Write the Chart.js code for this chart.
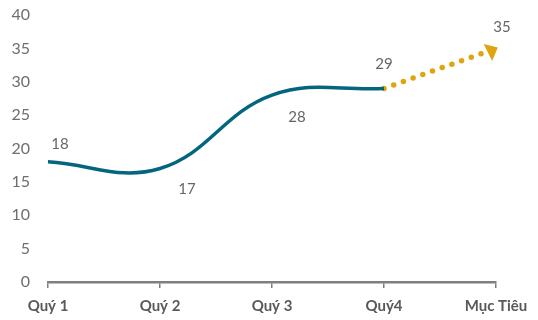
<!DOCTYPE html>
<html><head><meta charset="utf-8">
<script src="https://cdn.jsdelivr.net/npm/chart.js@4/dist/chart.umd.min.js"></script>
<style>html,body{margin:0;padding:0;background:#fff}#wrap{width:538px;height:320px}</style>
</head><body><div id="wrap"><canvas id="c" width="538" height="320"></canvas></div>
<script>
const categories = ["Quý 1", "Quý 2", "Quý 3", "Quý4", "Mục Tiêu"];
const actualValues = [18, 17, 28, 29, null];
const targetValues = [null, null, null, 29, 35];
const yTicks = [0, 5, 10, 15, 20, 25, 30, 35, 40];

// label placement per point: [dataset, index, dx, dy]
const labelPlacement = [
  [0, 0, 12, -18], [0, 1, 27, 21], [0, 2, 25, 22], [0, 3, 0, -24], [1, 4, 6, -21]
];

const labelPlugin = {
  id: 'labels',
  afterDatasetsDraw(chart) {
    const ctx = chart.ctx;
    ctx.save();
    ctx.font = '15px Lato, "Open Sans", sans-serif';
    ctx.fillStyle = '#666666';
    ctx.textAlign = 'center';
    ctx.textBaseline = 'middle';
    labelPlacement.forEach(([d, i, dx, dy]) => {
      const el = chart.getDatasetMeta(d).data[i];
      const v = chart.data.datasets[d].data[i];
      ctx.fillText(String(v), el.x + dx, el.y + dy);
    });
    // arrow head on target line
    const meta = chart.getDatasetMeta(1).data;
    const p1 = meta[3], p2 = meta[4];
    const ang = Math.atan2(p2.y - p1.y, p2.x - p1.x) - 0.12;
    ctx.translate(p2.x, p2.y);
    ctx.rotate(ang);
    ctx.fillStyle = '#DFA50E';
    ctx.beginPath();
    ctx.moveTo(2, 0);
    ctx.lineTo(-9, -9.5);
    ctx.lineTo(-9, 9.5);
    ctx.closePath();
    ctx.fill();
    ctx.restore();
  }
};

new Chart(document.getElementById('c'), {
  type: 'line',
  data: {
    labels: categories,
    datasets: [
      {
        data: actualValues,
        borderColor: '#04657F',
        borderWidth: 3.5,
        tension: 0.4,
        pointRadius: 0,
        fill: false
      },
      {
        data: targetValues,
        borderColor: '#DFA50E',
        borderWidth: 5.5,
        borderCapStyle: 'round',
        borderDash: [0, 10.3],
        pointRadius: 0,
        fill: false
      }
    ]
  },
  options: {
    responsive: false,
    animation: false,
    devicePixelRatio: 1,
    layout: { padding: { top: 15, right: 42, left: 0, bottom: 0 } },
    plugins: { legend: { display: false }, tooltip: { enabled: false } },
    scales: {
      x: {
        offset: false,
        afterFit(scale) { scale.height -= 4; },
        grid: { display: true, drawOnChartArea: false, drawTicks: true, tickLength: 6, color: '#7f7f7f', lineWidth: 1.5 },
        border: { display: true, color: '#7f7f7f', width: 2.5 },
        ticks: { color: '#595959', font: { family: 'Lato, "Open Sans", sans-serif', size: 15, weight: 'bold' }, padding: 9, maxRotation: 0 }
      },
      y: {
        min: 0, max: 40,
        afterBuildTicks(scale) { scale.ticks = yTicks.map(v => ({ value: v })); },
        afterFit(scale) { scale.width = 48; scale.paddingTop = 0; scale.paddingBottom = 0; },
        grid: { display: false },
        border: { display: false },
        ticks: { color: '#6e6e6e', font: { family: 'Lato, "Open Sans", sans-serif', size: 16 }, padding: 10 }
      }
    }
  },
  plugins: [labelPlugin]
});
</script>
</body></html>
